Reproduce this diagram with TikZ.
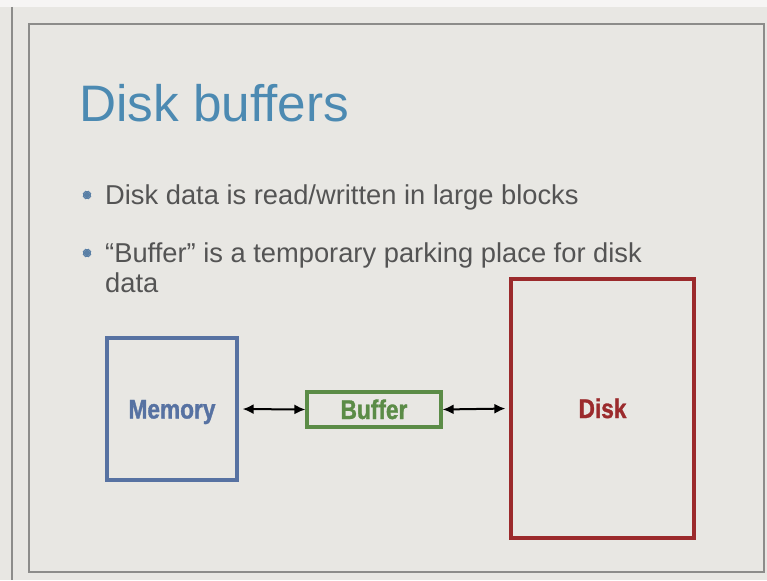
\documentclass[tikz,border=0pt]{standalone}
\usepackage{fontspec}
\setmainfont{Liberation Sans}
\newfontfamily\condfont[FakeStretch=0.84,FakeBold=1.2]{Liberation Sans Bold}
\usetikzlibrary{arrows.meta}
\definecolor{bg}{HTML}{E8E7E3}
\definecolor{framegray}{HTML}{8C8C8A}
\definecolor{titleblue}{HTML}{4C8AB2}
\definecolor{bodygray}{HTML}{545454}
\definecolor{bulletblue}{HTML}{5A80A6}
\definecolor{memblue}{HTML}{5772A2}
\definecolor{bufgreen}{HTML}{5B8C47}
\definecolor{diskred}{HTML}{9B2A2C}
\tikzset{
  box/.style={draw, line width=3.2pt, inner sep=0pt, text height=19pt, text depth=0pt, font=\condfont\fontsize{27}{30}\selectfont},
  biarrow/.style={{Latex[length=11pt,width=10pt]}-{Latex[length=11pt,width=10pt]}, line width=2pt, black},
  bodytext/.style={anchor=base west, inner sep=0pt, text=bodygray, font=\fontsize{27.3}{30}\selectfont},
  bulletmark/.style={bulletblue, line width=1.1pt}
}
\newcommand{\burst}[2]{%
  \foreach \a in {0,22.5,...,337.5} \draw[bulletmark] (#1,#2) -- ++(\a:4.4);
  \fill[bulletblue] (#1,#2) circle (2.4);
}
\begin{document}
\begin{tikzpicture}[x=1pt,y=-1pt]
\useasboundingbox (0,0) rectangle (767,580);
\fill[bg] (0,0) rectangle (767,580);
\fill[white!60!bg] (0,0) rectangle (767,7);
\draw[framegray, line width=1.2pt] (12,7) -- (12,580);
\draw[framegray, line width=2pt] (29,24) rectangle (764,572);
% title
\node[anchor=base west, inner sep=0pt, text=titleblue, font=\fontsize{51.3}{58}\selectfont] (title) at (79,122) {Disk buffers};
% bullets
\burst{87}{195}
\node[bodytext] (b1) at (105,204) {Disk data is read/written in large blocks};
\burst{87}{253}
\node[bodytext] (b2a) at (105,262) {“Buffer” is a temporary parking place for disk};
\node[bodytext] (b2b) at (105,292) {data};
% boxes
\node[box, memblue, minimum width=130pt, minimum height=142pt] (mem) at (172,409) {Memory};
\node[box, bufgreen, minimum width=134pt, minimum height=35pt] (buf) at (374,409.5) {Buffer};
\node[box, diskred, minimum width=183pt, minimum height=259pt] (disk) at (602.5,408.5) {Disk};
% arrows
\draw[biarrow, shorten <=4pt] (mem.east) -- (buf.west);
\draw[biarrow, shorten >=4pt] (buf.east) -- (disk.west);
\end{tikzpicture}
\end{document}
